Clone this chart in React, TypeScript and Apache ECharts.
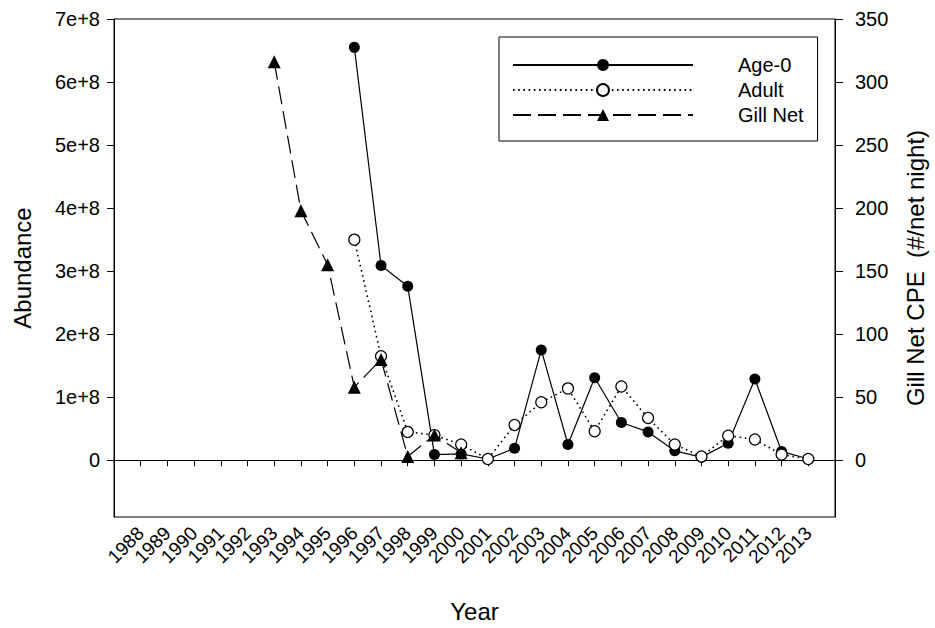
import React, { useEffect, useRef } from "react";
import * as echarts from "echarts";

// Tick labels along the Year axis
const yearTicks = [
  1988, 1989, 1990, 1991, 1992, 1993, 1994, 1995, 1996, 1997, 1998, 1999, 2000,
  2001, 2002, 2003, 2004, 2005, 2006, 2007, 2008, 2009, 2010, 2011, 2012, 2013,
];
const abundanceTicks = [0, 1e8, 2e8, 3e8, 4e8, 5e8, 6e8, 7e8];
const cpeTicks = [0, 50, 100, 150, 200, 250, 300, 350];

// Abundance estimates (left axis)
const surveyYears = [
  1996, 1997, 1998, 1999, 2000, 2001, 2002, 2003, 2004, 2005, 2006, 2007, 2008,
  2009, 2010, 2011, 2012, 2013,
];
const age0 = [
  6.55e8, 3.09e8, 2.76e8, 0.09e8, 0.1e8, 0.02e8, 0.19e8, 1.75e8, 0.25e8, 1.31e8,
  0.6e8, 0.45e8, 0.15e8, 0.05e8, 0.27e8, 1.29e8, 0.14e8, 0.02e8,
];
const adult = [
  3.5e8, 1.65e8, 0.45e8, 0.4e8, 0.25e8, 0.02e8, 0.56e8, 0.92e8, 1.14e8, 0.46e8,
  1.17e8, 0.67e8, 0.25e8, 0.06e8, 0.39e8, 0.33e8, 0.09e8, 0.02e8,
];

// Gill net catch per effort (right axis)
const gillYears = [1993, 1994, 1995, 1996, 1997, 1998, 1999, 2000];
const gillNet = [316, 198, 155, 58, 80, 3, 20, 6];

const FONT = "'Liberation Sans', Arial, Helvetica, sans-serif";

const pairs = (xs: number[], ys: number[]) => xs.map((x, i) => [x, ys[i]]);

export default function App() {
  const ref = useRef<HTMLDivElement>(null);

  useEffect(() => {
    if (!ref.current) return;
    const chart = echarts.init(ref.current, null, { renderer: "svg" });
    const axisText = { color: "#000", fontFamily: FONT };

    chart.setOption({
      animation: false,
      backgroundColor: "#fff",
      textStyle: { fontFamily: FONT, color: "#000" },
      grid: {
        left: 114,
        right: 96,
        top: 19,
        bottom: 107,
        show: true,
        borderColor: "#000",
        borderWidth: 1,
        backgroundColor: "transparent",
      },
      legend: {
        orient: "vertical",
        left: 499,
        top: 37,
        padding: [18, 14, 16, 13],
        borderColor: "#000",
        borderWidth: 1,
        itemWidth: 180,
        itemHeight: 15,
        itemGap: 5,
        textStyle: {
          fontSize: 20,
          color: "#000",
          fontFamily: FONT,
          padding: [0, 0, 0, 40],
        },
        data: ["Age-0", "Adult", "Gill Net"],
      },
      xAxis: {
        type: "value",
        min: 1987,
        max: 2014,
        name: "Year",
        nameLocation: "middle",
        nameGap: 82,
        nameTextStyle: { ...axisText, fontSize: 24 },
        axisLine: { lineStyle: { color: "#000", width: 1 } },
        axisTick: {
          show: true,
          length: 6,
          customValues: yearTicks,
          lineStyle: { color: "#000" },
        },
        axisLabel: {
          ...axisText,
          fontSize: 19,
          rotate: 45,
          margin: 13,
          customValues: yearTicks,
          formatter: (v: number) => String(v),
        },
        splitLine: { show: false },
      },
      yAxis: [
        {
          type: "value",
          min: -0.9e8,
          max: 7e8,
          name: "Abundance",
          nameLocation: "middle",
          nameGap: 80,
          nameTextStyle: { ...axisText, fontSize: 24 },
          axisLine: { show: true, lineStyle: { color: "#000", width: 1 } },
          axisTick: {
            show: true,
            length: 7,
            customValues: abundanceTicks,
            lineStyle: { color: "#000" },
          },
          axisLabel: {
            ...axisText,
            fontSize: 20,
            margin: 14,
            customValues: abundanceTicks,
            formatter: (v: number) => (v === 0 ? "0" : `${Math.round(v / 1e8)}e+8`),
          },
          splitLine: { show: false },
        },
        {
          type: "value",
          position: "right",
          min: -45,
          max: 350,
          name: "Gill Net CPE  (#/net night)",
          nameLocation: "middle",
          nameGap: 68,
          nameTextStyle: { ...axisText, fontSize: 24 },
          axisLine: { show: true, lineStyle: { color: "#000", width: 1 } },
          axisTick: {
            show: true,
            length: 8,
            customValues: cpeTicks,
            lineStyle: { color: "#000" },
          },
          axisLabel: {
            ...axisText,
            fontSize: 20,
            margin: 20,
            customValues: cpeTicks,
          },
          splitLine: { show: false },
        },
      ],
      series: [
        {
          name: "Age-0",
          type: "line",
          yAxisIndex: 0,
          data: pairs(surveyYears, age0),
          symbol: "circle",
          symbolSize: 11,
          itemStyle: { color: "#000", borderColor: "#000", borderWidth: 0 },
          lineStyle: { color: "#000", width: 1.2, type: "solid" },
        },
        {
          name: "Adult",
          type: "line",
          yAxisIndex: 0,
          data: pairs(surveyYears, adult),
          symbol: "circle",
          symbolSize: 11,
          itemStyle: { color: "#fff", borderColor: "#000", borderWidth: 1.2 },
          lineStyle: { color: "#000", width: 1.6, type: [1.6, 3.6] },
        },
        {
          name: "Gill Net",
          type: "line",
          yAxisIndex: 1,
          data: pairs(gillYears, gillNet),
          symbol: "triangle",
          symbolSize: 13,
          itemStyle: { color: "#000", borderColor: "#000", borderWidth: 0 },
          lineStyle: { color: "#000", width: 1.2, type: [18, 7] },
        },
      ],
    });

    return () => chart.dispose();
  }, []);

  return (
    <div
      ref={ref}
      style={{ position: "fixed", left: 0, top: 0, width: 935, height: 628 }}
    />
  );
}
